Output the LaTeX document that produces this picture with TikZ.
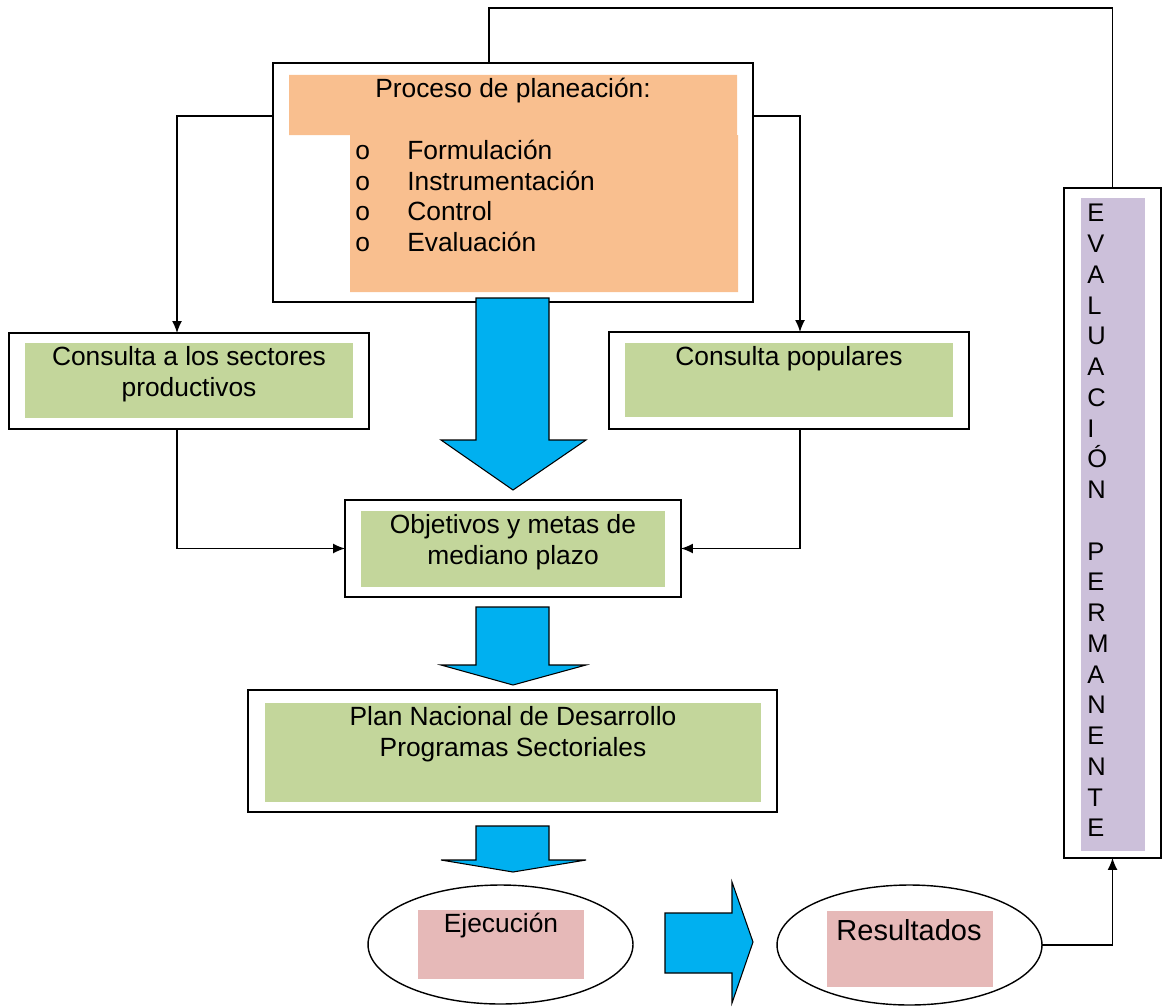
\documentclass[tikz,border=0pt]{standalone}
\usepackage{fontspec}
\setmainfont{Liberation Sans}
\usetikzlibrary{shapes.geometric, arrows.meta}
\definecolor{naranja}{HTML}{F9BF8F}
\definecolor{verde}{HTML}{C3D69B}
\definecolor{rosa}{HTML}{E6B9B8}
\definecolor{lila}{HTML}{CCC0DA}
\definecolor{azul}{HTML}{00B0F0}
\tikzset{
  caja/.style={draw, line width=1pt, inner sep=0pt, outer sep=0pt},
  elipse/.style={draw, ellipse, line width=.8pt, inner sep=0pt, outer sep=0pt},
  texto/.style={align=center, inner sep=0pt, font=\fontsize{15}{17.4}\selectfont},
  conector/.style={line width=.8pt},
  flecha/.style={fill=azul, draw=black, line width=.6pt, line join=miter}
}
\begin{document}
\begin{tikzpicture}[>={Latex[length=2.4mm, width=2mm]}, x=0.02cm, y=-0.02cm]
    \useasboundingbox (0,0) rectangle (1168,1007);

    % cajas
    \node[caja, minimum width=9.6cm, minimum height=4.78cm] (proc) at (513,182.5) {};
    \node[caja, minimum width=7.2cm, minimum height=1.92cm] (sect) at (189,381) {};
    \node[caja, minimum width=7.2cm, minimum height=1.94cm] (pop) at (789,380.5) {};
    \node[caja, minimum width=6.72cm, minimum height=1.94cm] (obj) at (513,548.5) {};
    \node[caja, minimum width=10.58cm, minimum height=2.44cm] (plan) at (512.5,751) {};
    \node[caja, minimum width=1.94cm, minimum height=13.4cm] (eval) at (1112.5,523) {};
    \node[elipse, minimum width=5.3cm, minimum height=2.38cm] (ejec) at (500.5,944.5) {};
    \node[elipse, minimum width=5.3cm, minimum height=2.4cm] (res) at (909.5,945) {};

    % rellenos
    \fill[naranja] (289,75) -- (737,75) -- (737,135) -- (738,135) -- (738,292)
        -- (350,292) -- (350,135) -- (289,135) -- cycle;
    \fill[verde] (25,343) rectangle (353,418);
    \fill[verde] (625,343) rectangle (953,417);
    \fill[verde] (361,511) rectangle (665,587);
    \fill[verde] (265,703) rectangle (761,802);
    \fill[lila] (1081,198) rectangle (1145,851);
    \fill[rosa] (418,910) rectangle (584,979);
    \fill[rosa] (827,911) rectangle (993,987);

    % flechas azules
    \foreach \t/\h/\b in {298/440/490, 607/665/685, 826/860/872}
    {
       \draw[flecha] (476,\t) -- (549,\t) -- (549,\h) -- (586,\h) -- (513,\b)
           -- (441,\h) -- (476,\h) -- cycle;
    }
    \draw[flecha] (665,913) -- (732,913) -- (732,882) -- (753,942) -- (732,1003)
        -- (732,973) -- (665,973) -- cycle;

    % conectores
    \draw[conector, ->] (proc.west |- 0,116) -| (177,0 |- sect.north);
    \draw[conector, ->] (proc.east |- 0,116) -| (800,0 |- pop.north);
    \draw[conector, ->] (177,0 |- sect.south) |- (obj.west);
    \draw[conector, ->] (800,0 |- pop.south) |- (obj.east);
    \draw[conector] (489,0 |- proc.north) -- (489,8) -| (eval.north);
    \draw[conector, ->] (res.east) -| (eval.south);

    % textos
    \node[texto] (tproc) at (513,91) {Proceso de planeación:};
    \node[texto, align=left, anchor=north west] (tlista) at (355,140)
        {\makebox[1.04cm][l]{o}Formulación\\
         \makebox[1.04cm][l]{o}Instrumentación\\
         \makebox[1.04cm][l]{o}Control\\
         \makebox[1.04cm][l]{o}Evaluación};
    \node[texto] (tsect) at (189,374) {Consulta a los sectores\\productivos};
    \node[texto] (tpop) at (789,359) {Consulta populares};
    \node[texto] (tobj) at (513,542) {Objetivos y metas de\\mediano plazo};
    \node[texto] (tplan) at (513,734) {Plan Nacional de Desarrollo\\Programas Sectoriales};
    \node[texto] (tejec) at (501,926) {Ejecución};
    \node[texto, font=\fontsize{16.5}{20}\selectfont] (tres) at (909,930) {Resultados};
    \node[texto, align=left, anchor=north west,
          font=\fontsize{14.5}{17.5}\selectfont] (teval) at (1087,204)
        {E\\V\\A\\L\\U\\A\\C\\I\\Ó\\N\\ \\P\\E\\R\\M\\A\\N\\E\\N\\T\\E};
\end{tikzpicture}
\end{document}
